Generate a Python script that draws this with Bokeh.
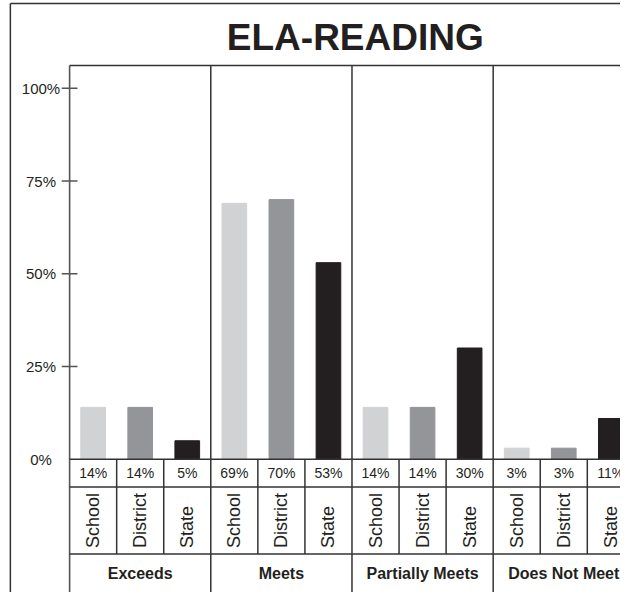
from bokeh.plotting import figure
from bokeh.models import Range1d, ColumnDataSource
from bokeh.core.properties import value
from bokeh.embed import file_html
from bokeh.resources import INLINE

# ---- data ----
title_text = "ELA-READING"
groups = ["Exceeds", "Meets", "Partially Meets", "Does Not Meet"]
series = ["School", "District", "State"]
school = [14, 69, 14, 3]
district = [14, 70, 14, 3]
state = [5, 53, 30, 11]
series_colors = ["#d1d2d4", "#939598", "#231f20"]
y_ticks = [25, 50, 75, 100]
y_tick_labels = ["0%", "25%", "50%", "75%", "100%"]
y_label_values = [0, 25, 50, 75, 100]

# ---- geometry: reference layout is 628x600, drawn into a 620x592 canvas ----
CELL = 47.67      # reference px per bar cell
PCT = 3.76        # reference px per percent
X0 = 70           # reference x of axis line
Y0 = 465          # reference y of 0%
REF_W, REF_H = 628, 600
W, H = 620, 592

def px_x(rx):  # reference x -> data
    return (rx - X0) / CELL

def px_y(ry):  # reference y (from top) -> data
    return (Y0 - ry) / PCT

p = figure(width=W, height=H, output_backend="svg", toolbar_location=None,
           x_range=Range1d(px_x(0), px_x(REF_W)), y_range=Range1d(px_y(REF_H), px_y(0)),
           x_axis_location=None, y_axis_location=None, min_border=0,
           outline_line_color=None, background_fill_color="white",
           border_fill_color="white")
p.grid.visible = False

n_cells = len(groups) * len(series)
FONT = value("Liberation Sans")
TXT = "#231f20"
LINE = "#333333"

# bars
vals_all = [school, district, state]
xs, tops, cols, labels, cats = [], [], [], [], []
for g in range(len(groups)):
    for k, vals in enumerate(vals_all):
        xs.append(g * 3 + k + 0.5)
        tops.append(vals[g])
        cols.append(series_colors[k])
        labels.append(f"{vals[g]}%")
        cats.append(series[k])
src = ColumnDataSource(dict(x=xs, top=tops, color=cols, label=labels, cat=cats))
p.vbar(x="x", top="top", bottom=0, width=25 / CELL, color="color", source=src)

top_frame = px_y(66)
bottom = px_y(REF_H + 20)
row1 = px_y(493)
row2 = px_y(561)

# frame lines
p.segment(x0=[0], y0=[bottom], x1=[0], y1=[top_frame], line_color="#555555", line_width=1.6)
p.segment(x0=[0], y0=[top_frame], x1=[n_cells + 1], y1=[top_frame], line_color=LINE, line_width=1.5)
div_x = [3, 6, 9]
p.segment(x0=div_x, y0=[bottom] * 3, x1=div_x, y1=[top_frame] * 3, line_color=LINE, line_width=1.5)
hy = [0, row1, row2]
p.segment(x0=[0] * 3, y0=hy, x1=[n_cells + 1] * 3, y1=hy, line_color=LINE, line_width=1.5)
cell_x = [c for c in range(1, n_cells) if c % 3 != 0]
p.segment(x0=cell_x, y0=[0] * len(cell_x), x1=cell_x, y1=[row2] * len(cell_x),
          line_color=LINE, line_width=1.5)

# outer border
ob_x = px_x(10)
ob_y = px_y(3)
p.segment(x0=[ob_x, ob_x], y0=[bottom, ob_y], x1=[ob_x, n_cells + 1], y1=[ob_y, ob_y],
          line_color=LINE, line_width=1.5)

# y ticks
tk = 8 / CELL
p.segment(x0=[-tk] * len(y_ticks), y0=y_ticks, x1=[tk] * len(y_ticks), y1=y_ticks,
          line_color="#555555", line_width=1.5)
p.text(x=[px_x(41)] * len(y_label_values), y=y_label_values, text=y_tick_labels,
       text_font=FONT, text_font_size="15px", text_color=TXT,
       text_align="center", text_baseline="middle")

# value labels
p.text(x="x", y=px_y(479), text="label", source=src, text_font=FONT,
       text_font_size="14px", text_color=TXT, text_align="center", text_baseline="middle")
# category labels (rotated)
p.text(x="x", y=px_y(555), text="cat", source=src, angle=1.5708, text_font=FONT,
       text_font_size="18px", text_color=TXT, text_align="left", text_baseline="middle")
# group labels
p.text(x=[g * 3 + 1.5 for g in range(len(groups))], y=[px_y(581)] * len(groups),
       text=groups, text_font=FONT, text_font_size="16px", text_font_style="bold",
       text_color=TXT, text_align="center", text_baseline="middle")
# title
p.text(x=[6.07], y=[px_y(37)], text=[title_text], text_font=FONT,
       text_font_size="37px", text_font_style="bold", text_color=TXT,
       text_align="center", text_baseline="middle")

open("out.html", "w").write(file_html(p, INLINE))
